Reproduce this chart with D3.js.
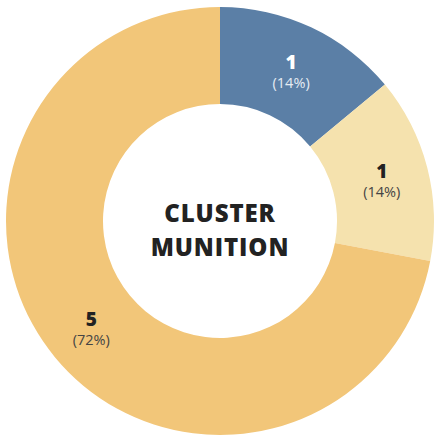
<!DOCTYPE html>
<html><head><meta charset="utf-8">
<script src="https://cdn.jsdelivr.net/npm/d3@7"></script>
<style>html,body{margin:0;padding:0;background:#fff;}svg{display:block;}</style>
</head><body>
<svg id="c" width="434" height="439"></svg>
<script>
const categories = ["A", "B", "C"];
const counts = [1, 1, 5];
const percents = [14, 14, 72];
const colors = ["#5b7fa6", "#f5e2ae", "#f2c679"];
const numColors = ["#ffffff", "#222222", "#222222"];
const pctColors = ["#e6ecf3", "#444444", "#444444"];
const centerLines = ["CLUSTER", "MUNITION"];

const svg = d3.select("#c");
const cx = 220, cy = 221, rOuter = 214, rInner = 117;
const g = svg.append("g").attr("transform", `translate(${cx},${cy})`);
const data = categories.map((c, i) => ({cat: c, count: counts[i], pct: percents[i], i}));
const pie = d3.pie().value(d => d.pct).sort(null);
const arc = d3.arc().innerRadius(rInner).outerRadius(rOuter);
const arcs = pie(data);
g.selectAll("path").data(arcs).join("path")
  .attr("d", arc).attr("fill", d => colors[d.data.i]);

const labelArc = d3.arc().innerRadius(167).outerRadius(167);
const lg = g.selectAll("g.lab").data(arcs).join("g").attr("class", "lab")
  .attr("transform", d => `translate(${labelArc.centroid(d)})`);
lg.append("text").attr("text-anchor", "middle").attr("y", -1)
  .style("font-family", "'Open Sans', sans-serif").style("font-weight", 800).style("font-size", "19px")
  .attr("fill", d => numColors[d.data.i]).text(d => d.data.count);
lg.append("text").attr("text-anchor", "middle").attr("y", 18)
  .style("font-family", "'Open Sans', sans-serif").style("font-weight", 400).style("font-size", "14.5px")
  .attr("fill", d => pctColors[d.data.i]).text(d => `(${d.data.pct}%)`);

g.selectAll("text.center").data(centerLines).join("text").attr("class", "center")
  .attr("text-anchor", "middle").attr("x", 0).attr("y", (d, i) => 1 + i * 34)
  .style("font-family", "'Open Sans', sans-serif").style("font-weight", 800).style("font-size", "24px")
  .style("letter-spacing", "0.9px")
  .attr("fill", "#222").text(d => d);
</script>
</body></html>
